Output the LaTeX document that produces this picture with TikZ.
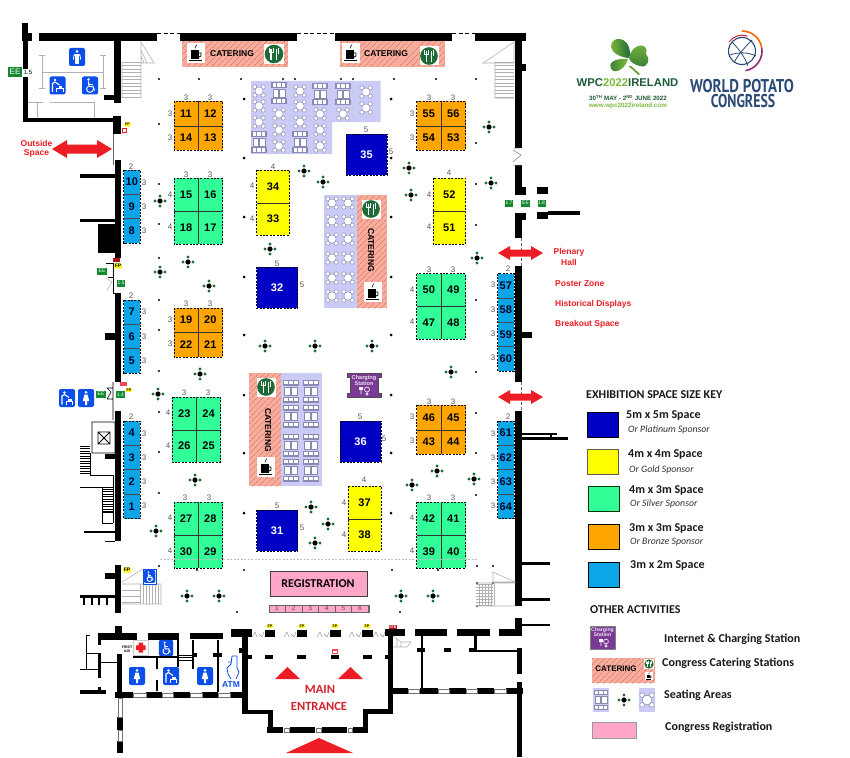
\documentclass[tikz,border=0pt]{standalone}
\usepackage{fontspec}
\usepackage{graphicx}
\setmainfont{Liberation Sans}
\newfontfamily\calf{Carlito}
\newfontfamily\ptb{PT Sans}
\usetikzlibrary{patterns.meta}
\definecolor{cOr}{HTML}{FFA500}\definecolor{cGr}{HTML}{33FF99}\definecolor{cCy}{HTML}{0CA6E8}
\definecolor{cBl}{HTML}{0000C4}\definecolor{cYe}{HTML}{FFFF00}\definecolor{cPi}{HTML}{FFA6C9}
\definecolor{cSe}{HTML}{CBCBF7}\definecolor{cSa}{HTML}{F7AC9C}\definecolor{cHa}{HTML}{C9685A}
\definecolor{cPl}{HTML}{1F6B35}\definecolor{cRe}{HTML}{EE1C25}\definecolor{cIc}{HTML}{0B4FE8}
\definecolor{cPu}{HTML}{7B3A96}\definecolor{cEE}{HTML}{14892F}\definecolor{cGy}{HTML}{B0B0B0}
\definecolor{cTa}{HTML}{8A8AB0}\definecolor{cMa}{HTML}{D2232A}\definecolor{cWp}{HTML}{1F5C38}
\definecolor{cWl}{HTML}{7DB93C}\definecolor{cPo}{HTML}{2C4A78}
\tikzset{
 x=1pt,y=-1pt,
 num/.style={font=\fontsize{11}{12}\selectfont\bfseries,inner sep=0pt},
 dimn/.style={font=\fontsize{8}{9}\selectfont,text=black!65,inner sep=0pt},
 standbox/.style={draw=black,dash pattern=on 2pt off 1.4pt,line width=.6pt},
 divline/.style={draw=black!80,line width=.7pt},
 graythin/.style={draw=cGy,line width=.55pt},
 redlab/.style={font=\fontsize{8.5}{10}\selectfont\bfseries,text=cRe,inner sep=0pt},
 keyhead/.style={font=\calf\fontsize{12}{13}\selectfont\bfseries,anchor=west,inner sep=0pt,text=black!90},
 keysub/.style={font=\calf\fontsize{9.8}{11}\selectfont\itshape,anchor=west,inner sep=0pt,text=black!80},
 keysw/.style={line width=1pt},
 catlab/.style={font=\fontsize{8.5}{10}\selectfont\bfseries,inner sep=0pt},
 tinylab/.style={font=\fontsize{3.6}{4}\selectfont\bfseries,inner sep=0pt},
 fptag/.style={fill=yellow!90!white,font=\fontsize{3.6}{4}\selectfont\bfseries,inner sep=.8pt,rounded corners=1pt},
 eetag/.style={fill=cEE,text=white,font=\fontsize{5}{6}\selectfont,inner sep=0pt,minimum width=#1,minimum height=7pt},
 eetag/.default=9pt,
 iconbox/.style={fill=cIc,rounded corners=2pt},
}
\newcommand\W[4]{\fill[black] (#1,#2) rectangle (#3,#4);}
\newcommand\stand[5]{\fill[#5] (#1,#2) rectangle (#3,#4); \draw[standbox] (#1,#2) rectangle (#3,#4);}
\newcommand\dimv[3]{\node[dimn] at (#2,#3) {#1};}
\newcommand\plant[2]{\begin{scope}[shift={(#1,#2)}]\fill[cPl] (-5,0) circle(1.6) (5,0) circle(1.6) (0,-5) circle(1.6) (0,5) circle(1.6);\fill[black] (0,0) circle(2.6);\end{scope}}
\newcommand\roundtab[3][1]{\begin{scope}[shift={(#2,#3)},scale=#1]\foreach \a in {45,135,225,315}{\filldraw[fill=white,draw=cTa,line width=.5pt] (\a:6.2) circle(2.2);}\filldraw[fill=white,draw=cTa,line width=.5pt] (0,0) circle(4.4);\end{scope}}
\newcommand\recttab[3][1]{\begin{scope}[shift={(#2,#3)},scale=#1]\foreach \yy in {-8.5,8.5}{\fill[cTa] (-8,\yy-3) rectangle (8,\yy+3);\foreach \xx in {-5,0,5}{\fill[white] (\xx-1.8,\yy-1.8) rectangle (\xx+1.8,\yy+1.8);}}\fill[white,draw=cTa,line width=.3pt] (-6.5,-4) rectangle (-.5,4);\fill[white,draw=cTa,line width=.3pt] (.5,-4) rectangle (6.5,4);\end{scope}}
\newcommand\coffee[3][1]{\begin{scope}[shift={(#2,#3)},scale=#1]\fill[white] (-9,-10) rectangle (9,10);\fill[black] (-5,-3) rectangle (3,6);\draw[black,line width=.8pt] (3,0) -- (5,0) -- (5,3) -- (3,4);\fill[black] (-7,7) rectangle (6,8.3);\draw[black,line width=.5pt] (-1,-4.5) .. controls (-2,-6) and (1,-7) .. (1,-8.5);\end{scope}}
\newcommand\dine[3][1]{\begin{scope}[shift={(#2,#3)},scale=#1]\fill[white] (-10,-10) rectangle (10,10);\fill[cPl] (0,0) circle(9.3);\draw[white,line width=1.1pt] (-3,-5) -- (-3,6) (2.8,-5) -- (2.8,6);\draw[white,line width=.6pt] (-5,-6) -- (-5,-2) -- (-1,-2) -- (-1,-6) (4,-6) -- (4,0);\end{scope}}
\newcommand\hatch[4]{\fill[cSa] (#1,#2) rectangle (#3,#4);\fill[pattern={Lines[angle=45,distance=4pt,line width=.35pt]},pattern color=cHa] (#1,#2) rectangle (#3,#4);}
\newcommand\man[3][1]{\begin{scope}[shift={(#2,#3)},scale=#1]\fill[iconbox] (-8,-9) rectangle (8,9);\fill[white] (0,-5.6) circle(1.5);\draw[white,line width=1.4pt,line cap=round] (-2.3,-2) -- (2.3,-2) (-1,-2) -- (-1,6.5) (1,-2) -- (1,6.5) (0,-2) -- (0,1);\draw[white,line width=.8pt] (-3,-2) -- (-3.6,2.5) (3,-2) -- (3.6,2.5);\end{scope}}
\newcommand\woman[3][1]{\begin{scope}[shift={(#2,#3)},scale=#1]\fill[iconbox] (-8,-9) rectangle (8,9);\fill[white] (0,-5.6) circle(1.5);\fill[white] (-1.6,-3.5) -- (1.6,-3.5) -- (3.2,3) -- (1,3) -- (1,7) -- (-1,7) -- (-1,3) -- (-3.2,3) -- cycle;\end{scope}}
\newcommand\baby[3][1]{\begin{scope}[shift={(#2,#3)},scale=#1]\fill[iconbox] (-8,-9) rectangle (8,9);\fill[white] (-2.5,-5.5) circle(1.4);\draw[white,line width=1.1pt] (-5,6.5) -- (-5,-2) -- (-2.5,-3.5) -- (2,-.5);\draw[white,line width=1pt] (-1,3) -- (5.8,3) -- (5.8,6.5) (-1,3) -- (-1,6.5);\fill[white] (1,.8) rectangle (4.5,2.6);\end{scope}}
\newcommand\wheel[3][1]{\begin{scope}[shift={(#2,#3)},scale=#1]\fill[iconbox] (-8,-9) rectangle (8,9);\fill[white] (-1.5,-6) circle(1.3);\draw[white,line width=.9pt] (-2.4,1.1) arc(225:0:3.4);\draw[white,line width=1.1pt] (-1.5,-4) -- (-1,1) -- (3,1) -- (4.5,5);\draw[white,line width=.8pt] (-1.2,-1.5) -- (2.5,-1.5);\end{scope}}
\newcommand\chargetxt[3]{\node[font=\fontsize{#3}{#3}\selectfont\bfseries,text=white!85!cPu,align=center,inner sep=0pt] at (#1,#2) {Charging\\[-.4pt]Station};}
\newcommand\arrowdbl[5]{\fill[cRe] (#1,#3) -- (#1+#4,#3-#5) -- (#1+#4,#3-#5/2) -- (#2-#4,#3-#5/2) -- (#2-#4,#3-#5) -- (#2,#3) -- (#2-#4,#3+#5) -- (#2-#4,#3+#5/2) -- (#1+#4,#3+#5/2) -- (#1+#4,#3+#5) -- cycle;}
\newcommand\win[4]{\draw[black!55,line width=.4pt] (#1,#2) rectangle (#3,#4);}
\newcommand\stair[5]{\foreach \t in {#1,#2,...,#3}{\draw[graythin] (#4,\t) -- (#5,\t);}}
\begin{document}
\begin{tikzpicture}
\useasboundingbox (0,0) rectangle (850,757);
\fill[white] (0,0) rectangle (850,757);

% ---------- seating / catering
\fill[cSe] (251,81) -- (380.5,81) -- (380.5,122) -- (332,122) -- (332,154) -- (251,154) -- cycle;
\foreach \a/\b in {259/91,259/106,259/122,279/114,279/130,279/146,300/91,300/106,300/122,320/114,320/130,320/146,343/114,366/92,366/108}{\roundtab[.95]{\a}{\b}}
\foreach \a/\b in {279/93,320/94,343/94,259/142,300/142}{\recttab[.95]{\a}{\b}}
\hatch{182}{41}{288}{67}\coffee{196}{53}\dine{274}{54}\node[catlab] (cat1) at (232,54) {CATERING};
\hatch{340}{41}{445}{67}\coffee{351}{53}\dine[.95]{429}{56}\node[catlab] (cat2) at (386,54) {CATERING};
\fill[cSe] (324,195) rectangle (357,308);
\foreach \b in {203,221,239,258,278,296}{\roundtab[.95]{332}{\b}\roundtab[.95]{348}{\b}}
\hatch{357}{195}{386.5}{308}\dine[.95]{371}{209}\coffee{373}{292}\node[catlab,rotate=-90] (cat3) at (371,250) {CATERING};
\fill[cSe] (281,373) rectangle (322,486);
\foreach \a in {291,311}{\foreach \b in {391,416,445,470}{\recttab[1]{\a}{\b}}}
\hatch{249}{373}{281}{486}\dine[.95]{266}{387}\coffee{266}{467}\node[catlab,rotate=-90] (cat4) at (268,430) {CATERING};

% ---------- stands
\foreach \xa/\ya/\xb/\yb/\xm/\ym/\co/\p/\q/\r/\s in {
 174/101.5/222.5/150/198/126/cOr/11/12/14/13,
 174/178/222.5/244/198/211/cGr/15/16/18/17,
 174/308/222.5/357/198/332/cOr/19/20/22/21,
 172/397/220.5/462/196.5/430/cGr/23/24/26/25,
 174/502/222.5/568/198/535/cGr/27/28/30/29,
 416.5/101.5/465.5/150/441/126/cOr/55/56/54/53,
 416.5/273.5/465.5/339/441/306/cGr/50/49/47/48,
 416.5/405/465.5/454/441/430/cOr/46/45/43/44,
 416.5/502/465.5/568/441/535/cGr/42/41/39/40}{
 \stand{\xa}{\ya}{\xb}{\yb}{\co}
 \draw[divline] (\xm,\ya) -- (\xm,\yb) (\xa,\ym) -- (\xb,\ym);
 \node[num] (s\p) at ({(\xa+\xm)/2},{(\ya+\ym)/2}) {\p};
 \node[num] (s\q) at ({(\xb+\xm)/2},{(\ya+\ym)/2}) {\q};
 \node[num] (s\r) at ({(\xa+\xm)/2},{(\yb+\ym)/2}) {\r};
 \node[num] (s\s) at ({(\xb+\xm)/2},{(\yb+\ym)/2}) {\s};
}
\foreach \xa/\ya/\xb/\yb/\ym/\p/\q in {256.5/170/289.5/235/203/34/33, 433/178/465.5/244/211/52/51, 348/486/381/551/519/37/38}{
 \stand{\xa}{\ya}{\xb}{\yb}{cYe}
 \draw[divline] (\xa,\ym) -- (\xb,\ym);
 \node[num] (s\p) at ({(\xa+\xb)/2},{(\ya+\ym)/2}) {\p};
 \node[num] (s\q) at ({(\xa+\xb)/2},{(\yb+\ym)/2}) {\q};
}
\foreach \xa/\ya/\p in {346/134/35, 256.5/267/32, 256.5/510/31, 340/421/36}{
 \stand{\xa}{\ya}{\xa+41}{\ya+41}{cBl}
 \node[num,text=white] (s\p) at (\xa+20.5,\ya+20.5) {\p};
}
\foreach \xa/\ya/\n/\lst in {123.5/170/3/{10,9,8}, 123.5/300/3/{7,6,5}, 123.5/421/4/{4,3,2,1}, 497.5/273.5/4/{57,58,59,60}, 497.5/421/4/{61,62,63,64}}{
 \stand{\xa}{\ya}{\xa+16.5}{\ya+24.4*\n}{cCy}
 \foreach \p [count=\i] in \lst {
  \ifnum\i>1 \draw[divline,draw=black!70] (\xa,\ya+24.4*\i-24.4) -- (\xa+16.5,\ya+24.4*\i-24.4);\fi
  \node[num,text=black!80!cBl] (s\p) at (\xa+8.25,\ya+24.4*\i-12.2) {\p};
 }
}
% dimensions
\foreach \t/\a/\b in {3/186/98,3/210/98,3/170/114,3/170/138,3/186/175,3/210/175,4/170/195,4/170/227,
 4/273/167,4/252/186,4/252/219,2/131/167,3/144/183,3/144/207,3/144/231,5/366/130,5/391/152,
 3/429/98,3/453/98,3/412/114,3/412/138,4/449/173,4/429/195,4/429/227,5/277/264,5/302/285,
 2/131/296,3/144/312,3/144/337,3/144/361,3/186/304,3/210/304,3/170/320,3/170/344,
 3/184/393,3/208/393,4/168/413,4/168/446,2/131/417,3/144/434,3/144/458,3/144/482,3/144/506,
 3/185/498,3/209/498,4/170/518,4/170/551,5/277/506,5/302/528,
 3/429/270,3/453/270,4/412/290,4/412/322,2/508/269,3/493/285,3/493/310,3/493/334,3/493/358,
 3/429/402,3/453/402,3/412/417,3/412/441,5/360/417,5/384/439,4/364/480,4/344/503,4/344/535,
 3/429/498,3/453/498,4/412/518,4/412/551,2/508/417,3/493/434,3/493/458,3/493/482,3/493/506}{\dimv{\t}{\a}{\b}}

% ---------- dots and plants
\foreach \a/\b in {159/79,199/79,241/79,283/79,295/79,341/79,353/79,394/79,436/79,476/79,159/124,159/184,159/224,159/258,476/143,476/184,476/225,159/300,159/330,476/300,159/371,476/372,159/412,476/413,159/452,476/453,159/493,476/495,159/566,197/570,244/570,237/612,392/570,438/570,477/566,493/566,477/583,493/583,477/606,400/612}{\fill[black] (\a,\b) circle(1.1);}
\foreach \a/\b in {244/99,244/158,244/217,244/277,244/335,244/395,244/453,244/513,391/99,391/158,391/217,391/277,391/335,391/395,391/453,391/513}{\fill[black] (\a,\b) circle(1.5);}
\foreach \a/\b in {160/201,270/249,188/262,489/127,304/171,323/182,409/168,491/183,411/195,477/258,160/272,209/286,265/346,200/374,158/394,195/480,156/531,315/346,372/346,451/372,437/471,412/485,474/479,311/507,328/524,315/543,187/596,219/596,401/596,433/596}{\plant{\a}{\b}}

% ---------- charging station
\fill[cPu,draw=black!70,line width=.5pt] (347,373) -- (381,373) -- (381,377) -- (378,377) -- (378,393) -- (381,393) -- (381,397) -- (347,397) -- (347,393) -- (350,393) -- (350,377) -- (347,377) -- cycle;
\chargetxt{364}{380.5}{5.6}
\draw[white,line width=.6pt] (361,387) -- (361,394) (367,389.5) circle(2.5) (367,394) circle(1.2);\fill[white] (358.5,386.5) rectangle (363,390);

% ---------- walls: upper-left room
\W{22}{23}{28}{40}\W{23}{40}{28}{122}\W{22}{33}{32}{41}\W{39}{33}{157}{41}\W{23}{118}{114}{122}
\W{114}{41}{121}{103}\W{104}{95}{114}{100}\W{113}{116}{121}{134}
\draw[black!60,line width=1.1pt] (113.5,134) -- (113.5,165);
\draw[black,line width=1pt,dash pattern=on 4pt off 2.5pt] (157,34) -- (180,34);
\W{180}{33}{297}{41}\draw[black,line width=1pt,dash pattern=on 4pt off 2.5pt] (297,34) -- (335,34);
\W{335}{33}{452}{41}\draw[black,line width=1pt,dash pattern=on 4pt off 2.5pt] (452,34) -- (475,34);
\W{475}{33}{526}{41}
\draw[graythin,line width=.8pt] (42,55) -- (42,88) (39,55) -- (45,55) (39,88) -- (45,88) (42,72) -- (103,72) (103,55) -- (103,88) (100,55) -- (106,55) (100,88) -- (106,88) (28,102) -- (43,102) (50,102) -- (95,102) (37,102) -- (37,118) (94,102) -- (94,118);
\stair{62}{65.5}{98}{122}{141}\draw[graythin] (141,42) -- (154,63) -- (141,63) -- cycle (141,50) -- (147,63) (141,56) -- (144,63) (122,62) -- (122,98) (141,62) -- (141,98);
\man{77}{57}\baby{57.5}{85.5}\wheel{90}{85.5}
\node[eetag=14pt,minimum height=10pt,font=\fontsize{8}{9}\selectfont] (ee1) at (15,72) {EE};
\fill[white] (22.7,69) rectangle (32.7,76.7);\node[font=\fontsize{6}{7}\selectfont,inner sep=0pt] (w15) at (28,72.8) {1.5};
\node[fptag] (fp1) at (127.5,124.5) {FP};\fill[cRe] (122,128) rectangle (127,133);\fill[white] (123.2,129.2) rectangle (125.8,131.8);

% walls: left side
\W{115}{160}{121}{258}\W{80}{174}{115}{178}\W{80}{219}{115}{222}\W{98}{224}{115}{253}
\fill[cRe!70!black] (113,258) rectangle (120,262);
\node[fptag,font=\fontsize{5}{6}\selectfont\bfseries] (fp2) at (118,266) {FP};
\node[eetag=10pt] (ee2) at (102,271) {EE};\node[eetag=8pt] (ee3) at (121,283) {1.5};
\draw[black,line width=.6pt] (106,263) -- (113,263) -- (113,293) -- (115,293) (108,277) -- (113,277);
\draw[black!40,line width=.4pt] (106,278) -- (112,282) -- (107,290) (113,268) -- (113,276);
\W{115}{293}{121}{382}\W{105}{333}{115}{340}
\fill[cRe!80] (120,382) rectangle (127,386);\node[fptag] (fp3) at (129,390) {FP};
\node[eetag=10pt] (ee4) at (101,394) {EE};\node[eetag=9pt] (ee5) at (120.5,394.5) {1.4};
\draw[black,line width=.6pt] (113,382) -- (113,420) (107,388) -- (113,388) (107,399) -- (113,399) (107,388) -- (111,392) -- (107,399);
\baby{67}{398}\woman{86}{398}
\W{115}{411}{121}{541}\W{105}{454}{115}{459}
\draw[black,line width=.8pt] (92,422) rectangle (115,453) (98,432) rectangle (110,444) (98,432) -- (110,444) (98,444) -- (110,432);
\foreach \t in {446,448.5,...,475}{\draw[black,line width=.6pt] (80,\t) -- (90,\t);}
\draw[black,line width=.6pt] (90,453) -- (90,475) -- (113,475) -- (113,487) (80,487) -- (113,487) (102,487) -- (102,523) -- (113,523) (102,512) -- (113,512) (113,487) -- (113,523);
\foreach \t in {489,491.5,...,512}{\draw[black,line width=.6pt] (102,\t) -- (113,\t);}
\draw[black,line width=1.8pt] (84,532) -- (115,532);\draw[black,line width=.7pt] (105,541) -- (115,541);
% walls: lower-left
\W{115}{565}{121}{613}\W{105}{573}{115}{579}\W{80}{595}{115}{598}
\foreach \a in {84,92,99,107}{\draw[black,line width=1.1pt] (\a,598) -- (\a,605);}
\draw[graythin] (122,582) -- (143,569) (122,584) -- (161,584) -- (161,604) -- (122,604);
\foreach \t in {590,596,...,604}{\draw[graythin] (122,\t) -- (140,\t);}
\foreach \a in {140,143,...,160}{\draw[graythin] (\a,584) -- (\a,604);}
\node[fptag,font=\fontsize{5}{6}\selectfont\bfseries] (fp4) at (127,570) {FP};
\fill[white,draw=cIc,line width=.4pt] (143,569) rectangle (156,584);\wheel[.72]{149.5}{576.5}
% rooms bottom-left
\W{115}{626}{122}{640}\W{98}{633}{137}{640}\W{148}{633}{179}{640}\W{190}{633}{223}{639}\W{231}{629}{252}{637}
\W{242}{637}{248}{714}\W{242}{710}{272}{714}\W{268}{710}{273}{733}
\W{117}{654}{122}{693}\W{115}{692}{133}{698}\W{146}{692}{162}{698}\W{173}{692}{190}{698}\W{202}{692}{218}{698}\W{230}{692}{248}{698}
\win{133}{693}{146}{697}\win{162}{693}{173}{697}\win{190}{693}{202}{697}\win{218}{693}{230}{697}
\W{117}{717}{123}{730}\W{117}{741}{123}{753}\win{118}{698}{122}{717}\win{118}{730}{122}{741}
\W{133}{656}{177}{658}\W{156}{658}{158}{669}\W{156}{680}{158}{691}\W{177}{640}{179}{667}
\draw[black,line width=.6pt] (179,655) -- (192,655) (179,657.5) -- (192,657.5) (179,660) -- (192,660);
\W{192}{640}{193.5}{669}\W{217}{640}{218.5}{692}\W{192}{653}{197}{657}\W{213}{653}{222}{657}\W{239}{648}{245}{653}\W{248}{655}{252}{659}
\W{98}{635}{101}{645}\W{98}{653}{101}{678}\W{98}{687}{101}{692}\W{100}{662}{117}{663.2}\W{80}{690}{106}{694}
\draw[black,line width=.8pt] (90,635) -- (86,635) -- (86,669) (80,669) -- (98,669) (86,653) -- (98,653);
\woman{137}{676}\baby{171}{676}\woman{205}{676}\wheel[.9]{166}{648}
\fill[white,draw=black!20,line width=.3pt] (133.5,640) rectangle (148,655);
\fill[cRe] (138.5,642.5) rectangle (143,652.5) (136,645.3) rectangle (145.5,649.8);
\node[tinylab,align=center] (fa) at (127,649) {FIRST\\AID};
\draw[cIc,line width=.8pt,line join=round] (232,656) -- (237,656) -- (237,668) -- (239,672) -- (236,679) (232,656) -- (231,664) -- (227,668) -- (228,674) -- (231,679) (231,662) -- (228,662);
\node[font=\fontsize{8.5}{10}\selectfont\bfseries,text=cIc,inner sep=0pt] (atm) at (231,685) {ATM};

% entrance
\W{267}{727}{283}{733}\W{290}{727}{315}{733}\W{322}{727}{347}{733}\W{353}{727}{368}{733}\W{363}{710}{368}{733}\W{363}{709}{393}{714}\W{388}{630}{393}{714}
\win{284}{728}{289}{732}\win{316}{728}{321}{732}\win{348}{728}{352}{732}
\foreach \a/\b in {265/273,297/306,331/339,363/372,385/390,250/252}{\W{\a}{655}{\b}{659}}
\foreach \a/\b in {265/275,297/307,330/341,362/373}{\W{\a}{630}{\b}{637}}
\node[fptag] (fpa) at (270,626) {FP};\node[fptag] (fpb) at (302,626) {FP};\node[fptag] (fpc) at (335,626) {FP};\node[fptag] (fpd) at (367,626) {FP};
\node[fill=cRe!80!black,text=white,font=\fontsize{3.6}{4}\selectfont\bfseries,inner sep=.8pt] (prb) at (393,627.5) {FFB};
\fill[cRe!80] (332,649) rectangle (338,654);\fill[white] (333.2,650.5) rectangle (336.8,652.5);
\foreach \a in {252,284,317,349,373}{\draw[black!45,line width=.4pt] (\a,637) -- (\a+3,632) -- (\a+5,637) (\a+7,634) -- (\a+10,637) (\a+10,637) -- (\a+12,632);}
\foreach \a/\b in {275/679,338/679}{\fill[cRe] (\a,\b) -- (\a+12.5,667) -- (\a+25,\b) -- cycle;}
\fill[cRe] (286,753) -- (319,738) -- (353,753) -- cycle;
\node[font=\calf\fontsize{12.5}{14}\selectfont\bfseries,text=cMa,inner sep=0pt] (me1) at (320,689) {MAIN};
\node[font=\calf\fontsize{12.5}{14}\selectfont\bfseries,text=cMa,inner sep=0pt] (me2) at (319,706) {ENTRANCE};

% lower-right
\W{393}{688}{408}{694}\W{420}{688}{438}{694}\W{449}{688}{466}{694}\W{477}{688}{494}{694}\W{506}{688}{523}{694}
\win{408}{689}{419}{693}\win{438}{689}{449}{693}\win{466}{689}{477}{693}\win{494}{689}{506}{693}
\W{517}{682}{522}{757}\W{517}{648}{522}{674}\W{475}{650}{517}{652}\W{474}{636}{477}{650}\W{469}{648}{477}{652}\W{421}{636}{423}{688}\W{417}{648}{425}{652}\W{444}{648}{451}{652}
\W{385}{629}{405}{636}\W{415}{629}{447}{636}\W{457}{629}{490}{636}\W{499}{629}{522}{636}\W{515}{618}{522}{636}
\draw[graythin] (393,636) -- (401,642) -- (411,642) -- (407,647) -- (393,647) (397,639) -- (397,647) (401,642) -- (401,647);

% right wall
\W{515}{41}{522}{148}\W{522}{64}{526}{71}\W{515}{165}{522}{195}\W{515}{187}{526}{195}\W{515}{213}{526}{220}\W{515}{213}{522}{238}
\W{537}{187}{548}{194}\W{537}{212}{548}{219}\W{548}{211}{580}{215}
\draw[black!50,line width=.5pt] (513,150) -- (521,155) -- (513,162) (513,148) -- (521,148) (513,165) -- (521,165);
\draw[black!60,line width=1pt,dash pattern=on 3pt off 2pt] (521,238) -- (521,266) (521,382) -- (521,411);
\W{515}{266}{522}{382}\W{522}{332}{532}{338}\W{515}{411}{522}{606}\W{522}{433}{557}{434.5}\W{522}{437}{568}{440}\W{550}{433}{552}{437}
\W{522}{562}{550}{565}\W{522}{598}{550}{601}\W{522}{624}{550}{626}
\stair{584}{587}{606}{476}{493}\draw[graythin] (476,583) -- (515,583) (476,606) -- (515,606) (493,572) -- (515,582) -- (493,582) -- cycle;
\foreach \a in {479,482,...,494}{\draw[graythin] (\a,584) -- (\a,606);}
\node[eetag=8pt] (ee6) at (509,203) {1.7};\node[eetag=9pt] (ee7) at (525.5,203) {EE};\node[eetag=8pt] (ee8) at (541.5,203) {1.8};
\stair{62}{65.5}{98}{495}{514}\draw[graythin] (495,62) -- (495,98) -- (514,98) (514,42) -- (483,63) -- (514,63) -- cycle;

\draw[black!25,line width=.5pt,dash pattern=on 2pt off 1.5pt] (160,559) -- (478,559);

% registration
\fill[cPi,draw=black!75,line width=.7pt] (270,571) rectangle (367,596);
\node[font=\calf\fontsize{12}{14}\selectfont\bfseries,inner sep=0pt] (reg) at (318,583.5) {REGISTRATION};
\fill[cPi,draw=black!60,line width=.5pt] (269,605) rectangle (369,612);
\foreach \i in {1,...,6}{\node[font=\fontsize{6.5}{7}\selectfont,text=black!70,inner sep=0pt] (desk\i) at (277+16.6*\i-16.6,608.5) {\i};\draw[black!60,line width=.4pt] (268.6+16.6*\i,605) -- (268.6+16.6*\i,612);}

% arrows and labels
\arrowdbl{52}{112}{149}{15}{9}\arrowdbl{498}{543}{253}{12}{7}\arrowdbl{498}{543}{397}{12}{7}
\node[redlab] (lo1) at (36.5,143) {Outside};\node[redlab] (lo2) at (36.5,153) {Space};
\node[redlab] (lp1) at (569,252) {Plenary};\node[redlab] (lp2) at (569,262) {Hall};
\node[redlab,anchor=west] (lz1) at (555,284) {Poster Zone};\node[redlab,anchor=west] (lz2) at (555,304) {Historical Displays};\node[redlab,anchor=west] (lz3) at (555,324) {Breakout Space};

% ---------- key
\node[keyhead] (k0) at (586,395) {EXHIBITION SPACE SIZE KEY};
\filldraw[keysw,fill=cBl,draw=black] (587,412) rectangle (618,437);
\filldraw[keysw,fill=cYe,draw=black!70!yellow] (587.5,449.5) rectangle (618,474);
\filldraw[keysw,fill=cGr,draw=black!80!green] (588,486.5) rectangle (619,511);
\filldraw[keysw,fill=cOr,draw=black] (588,524) rectangle (619,549);
\filldraw[keysw,fill=cCy,draw=black] (588.5,562) rectangle (619,587);
\node[keyhead] (k1) at (626,416) {5m x 5m Space};\node[keysub] (k1b) at (628,430) {Or Platinum Sponsor};
\node[keyhead] (k2) at (628,455) {4m x 4m Space};\node[keysub] (k2b) at (629,470) {Or Gold Sponsor};
\node[keyhead] (k3) at (629,491) {4m x 3m Space};\node[keysub] (k3b) at (630,504) {Or Silver Sponsor};
\node[keyhead] (k4) at (629,529) {3m x 3m Space};\node[keysub] (k4b) at (630,542) {Or Bronze Sponsor};
\node[keyhead] (k5) at (630,566) {3m x 2m Space};
\node[keyhead] (k6) at (590,610) {OTHER ACTIVITIES};
\fill[cPu,draw=black!50,line width=.3pt] (590,626) rectangle (615,649);
\chargetxt{602.5}{632.5}{5.2}
\draw[white,line width=.6pt] (601,640) -- (601,646) (606,641.5) circle(2.4) (606,646) circle(1.2);\fill[white] (598.5,638.5) rectangle (603,642);
\node[keyhead] (k7) at (664,639) {Internet \& Charging Station};
\hatch{592}{658}{655}{683}\node[catlab,font=\fontsize{8}{9}\selectfont\bfseries] (k8a) at (616,669) {CATERING};\dine[.5]{649}{664}\coffee[.4]{649}{676}
\node[keyhead] (k8) at (662,663) {Congress Catering Stations};
\fill[cSe] (593,688) rectangle (609,712);\recttab[.9]{601}{700}\plant{624}{700}
\fill[cSe] (639,688) rectangle (655,712);\roundtab[1.1]{647}{700}
\node[keyhead] (k9) at (664,695) {Seating Areas};
\fill[cPi,draw=black!40,line width=.4pt] (592,722) rectangle (636,738);
\node[keyhead] (k10) at (665,727) {Congress Registration};

% ---------- logos
\begin{scope}
\fill[cWl!85!black] (631,66) -- (640,74) -- (638.5,75) -- (628.5,66) -- cycle;
\shade[left color=cWl,right color=cPl] (611,47) .. controls (610,36) and (630,34) .. (630,55) .. controls (630,56) and (629,58) .. (628,58) .. controls (620,57) and (612,53) .. (611,47) -- cycle;
\shade[top color=cWl,bottom color=cPl!80!cWl] (629,58) .. controls (632,42) and (650,42) .. (646,54) .. controls (651,58) and (648,69) .. (640,66) .. controls (635,65) and (630,62) .. (629,58) -- cycle;
\shade[left color=cPl!80!cWl,right color=cWl] (628,59) .. controls (622,58) and (607,60) .. (611,68) .. controls (612,74) and (624,72) .. (628,59) -- cycle;
\end{scope}
\node[font=\fontsize{11.3}{12}\selectfont\bfseries,inner sep=0pt] (wpc) at (627.5,83) {\textcolor{cWp}{WPC}\textcolor{cWl}{2022}\textcolor{cWp}{IRELAND}};
\node[font=\fontsize{6.2}{7}\selectfont\bfseries,text=cWp,inner sep=0pt] (wpd) at (628,98) {30\textsuperscript{TH} MAY - 2\textsuperscript{ND} JUNE 2022};
\node[font=\fontsize{6.3}{7}\selectfont\bfseries,text=cWl,inner sep=0pt] (wpu) at (628,105.5) {www.wpc2022ireland.com};
\draw[cPo,line width=1.1pt] (742,51) circle(13.5);
\draw[cPo,line width=.8pt] (732,42) .. controls (740,50) and (745,58) .. (748,66) (752,40) .. controls (742,50) and (736,58) .. (734,63) (730,55) .. controls (738,52) and (748,52) .. (756,56);
\draw[orange!80!red,line width=1.6pt] (742,31) arc(270:350:20);
\draw[cPu!80!red,line width=1.6pt] (761.7,47.5) arc(350:440:20);
\draw[cMa,line width=1pt] (729,42) arc(215:290:16);
\node[font=\ptb\fontsize{18.5}{20}\selectfont\bfseries,text=cPo,inner sep=0pt] (wp1) at (742,86) {\scalebox{.81}[1]{WORLD POTATO}};
\node[font=\ptb\fontsize{18.5}{20}\selectfont\bfseries,text=cPo,inner sep=0pt] (wp2) at (743,101) {\scalebox{.75}[1]{CONGRESS}};
\end{tikzpicture}
\end{document}
